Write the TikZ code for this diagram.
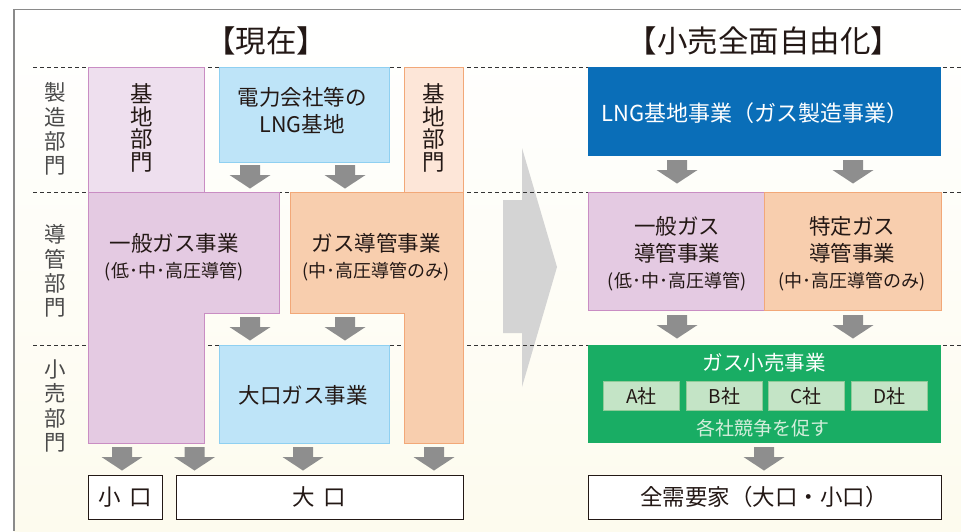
\documentclass[tikz,border=0pt]{standalone}
\usepackage{fontspec}
\setmainfont{Noto Sans CJK JP}
\definecolor{txt}{HTML}{231815}
\definecolor{lbl}{HTML}{4A4A4A}
\definecolor{framegray}{HTML}{8A8A8A}
\definecolor{bgcream}{HTML}{FDFBEE}
\definecolor{pinklight}{HTML}{EEDFEE}
\definecolor{pinkfill}{HTML}{E4CAE2}
\definecolor{pinkline}{HTML}{C98DC3}
\definecolor{bluefill}{HTML}{BEE4F8}
\definecolor{blueline}{HTML}{8FD0F1}
\definecolor{orangelight}{HTML}{FDE6D8}
\definecolor{orangefill}{HTML}{F8CEAE}
\definecolor{orangeline}{HTML}{F2A878}
\definecolor{darkblue}{HTML}{0A6EB8}
\definecolor{greenfill}{HTML}{19AD64}
\definecolor{subgreen}{HTML}{C4E4C6}
\definecolor{subgreenline}{HTML}{8FCB98}
\definecolor{greentext}{HTML}{D3EEDB}
\definecolor{agray}{HTML}{8E8E8E}
\definecolor{biggray}{HTML}{D4D4D4}
\definecolor{dashgray}{HTML}{333333}
\begin{document}
\begin{tikzpicture}[x=1pt,y=-1pt,
  box/.style={anchor=north west, inner sep=0pt, line width=0.9pt},
  txtnode/.style={text=txt, inner sep=0pt, align=center},
  big/.style={font=\fontsize{21.5}{27}\selectfont},
  small/.style={font=\fontsize{18}{22}\selectfont},
  vlabel/.style={text=lbl, inner sep=0pt, align=center, font=\fontsize{21.5}{24.3}\selectfont},
  vbox/.style={text=txt, inner sep=0pt, align=center, font=\fontsize{22.5}{22.5}\selectfont},
  sep/.style={dashgray, line width=0.8pt, dash pattern=on 4pt off 3pt},
  garrow/.pic={\fill[agray] (-10,0) -- (10,0) -- (10,10) -- (20.5,10) -- (0,23.5) -- (-20.5,10) -- (-10,10) -- cycle;}
]
\useasboundingbox (0,0) rectangle (961,531);
% background and frame
\shade[top color=white, bottom color=bgcream] (14,9.5) rectangle (961,531);
\draw[framegray, line width=1.4pt] (14,531) -- (14,9.5) -- (961,9.5);
% titles
\node[txtnode, font=\fontsize{30.5}{34}\selectfont] (t1) at (266,41) {【現在】};
\node[txtnode, font=\fontsize{30.5}{34}\selectfont] (t2) at (764,41) {【小売全面自由化】};
% big transition arrow
\fill[biggray] (503,200) -- (522,200) -- (522,148) -- (557,267) -- (522,387) -- (522,333) -- (503,333) -- cycle;
% dashed separators
\coordinate (s1a) at (33,67);  \coordinate (s1b) at (961,67);
\coordinate (s2a) at (33,192); \coordinate (s2b) at (961,192);
\coordinate (s3a) at (33,345); \coordinate (s3b) at (961,345);
\draw[sep] (s1a) -- (s1b);
\draw[sep] (s2a) -- (s2b);
\draw[sep] (s3a) -- (s3b);
% row labels
\node[vlabel] (r1) at (55,129) {製\\造\\部\\門};
\node[vlabel] (r2) at (55,271) {導\\管\\部\\門};
\node[vlabel] (r3) at (55,406) {小\\売\\部\\門};
% ---- left: current ----
\node[box, draw=pinkline, fill=pinklight, minimum width=116pt, minimum height=125pt] (kichiA) at (88,67) {};
\node[box, draw=blueline, fill=bluefill, minimum width=170pt, minimum height=95pt] (lngA) at (219,67) {};
\node[box, draw=orangeline, fill=orangelight, minimum width=59pt, minimum height=125pt] (kichiB) at (404,67) {};
\fill[pinkfill, draw=pinkline, line width=0.9pt] (88,192) -- (279,192) -- (279,313) -- (204,313) -- (204,443) -- (88,443) -- cycle;
\fill[orangefill, draw=orangeline, line width=0.9pt] (290,192) -- (463,192) -- (463,443) -- (404,443) -- (404,313) -- (290,313) -- cycle;
\node[box, draw=blueline, fill=bluefill, minimum width=170pt, minimum height=98pt] (ogA) at (219,345) {};
\node[box, draw=txt, fill=white, minimum width=74pt, minimum height=44pt, line width=1pt] (koguchi) at (88,475) {};
\node[box, draw=txt, fill=white, minimum width=287pt, minimum height=44pt, line width=1pt] (oguchi) at (176,475) {};
\node[vbox] (kA) at (142,128) {基\\地\\部\\門};
\node[vbox] (kB) at (434,128) {基\\地\\部\\門};
\node[txtnode, big] (lngAt) at (302,111) {電力会社等の\\LNG基地};
\node[txtnode, big] (ippan) at (174,243) {一般ガス事業};
\node[txtnode, small] (ippanS) at (174,272) {(低･中･高圧導管)};
\node[txtnode, big] (doukan) at (376,243) {ガス導管事業};
\node[txtnode, small] (doukanS) at (376,272) {(中･高圧導管のみ)};
\node[txtnode, big] (ogAt) at (303,395) {大口ガス事業};
\node[txtnode, font=\fontsize{22.5}{26}\selectfont] (kot) at (125,497) {小\hspace{0.4em}口};
\node[txtnode, font=\fontsize{22.5}{26}\selectfont] (oot) at (319.5,497) {大\hspace{0.4em}口};
\pic at (250,165) {garrow};
\pic at (345,165) {garrow};
\pic at (250,317) {garrow};
\pic at (345,317) {garrow};
\pic at (122,447) {garrow};
\pic at (194.5,447) {garrow};
\pic at (303,447) {garrow};
\pic at (434,447) {garrow};
% ---- right: full liberalisation ----
\node[box, fill=darkblue, minimum width=353pt, minimum height=89pt] (lngB) at (588,67) {};
\node[txtnode, text=white, font=\fontsize{22}{27}\selectfont] (lngBt) at (755,113) {LNG基地事業（ガス製造事業）};
\node[box, draw=pinkline, fill=pinkfill, minimum width=176pt, minimum height=118pt] (ippanB) at (588,192) {};
\node[box, draw=orangeline, fill=orangefill, minimum width=177pt, minimum height=118pt] (tokuteiB) at (764,192) {};
\node[txtnode, big] (ippanBt) at (677,240) {一般ガス\\導管事業};
\node[txtnode, small] (ippanBs) at (677,282) {(低･中･高圧導管)};
\node[txtnode, big] (tokuteiBt) at (852,240) {特定ガス\\導管事業};
\node[txtnode, small] (tokuteiBs) at (852,282) {(中･高圧導管のみ)};
\node[box, fill=greenfill, minimum width=353pt, minimum height=98pt] (retail) at (588,345) {};
\node[txtnode, text=white, font=\fontsize{20.5}{24}\selectfont] (retailt) at (764,363) {ガス小売事業};
\node[box, draw=subgreenline, fill=subgreen, line width=0.6pt, minimum width=76pt, minimum height=29pt] (coA) at (603,381) {};
\node[box, draw=subgreenline, fill=subgreen, line width=0.6pt, minimum width=76pt, minimum height=29pt] (coB) at (686,381) {};
\node[box, draw=subgreenline, fill=subgreen, line width=0.6pt, minimum width=76pt, minimum height=29pt] (coC) at (768,381) {};
\node[box, draw=subgreenline, fill=subgreen, line width=0.6pt, minimum width=76pt, minimum height=29pt] (coD) at (851,381) {};
\node[txtnode, font=\fontsize{19}{22}\selectfont] at (coA.center) {A社};
\node[txtnode, font=\fontsize{19}{22}\selectfont] at (coB.center) {B社};
\node[txtnode, font=\fontsize{19}{22}\selectfont] at (coC.center) {C社};
\node[txtnode, font=\fontsize{19}{22}\selectfont] at (coD.center) {D社};
\node[txtnode, text=greentext, font=\fontsize{19}{22}\selectfont] (compete) at (763,428) {各社競争を促す};
\node[box, draw=txt, fill=white, minimum width=353pt, minimum height=44pt, line width=1pt] (all) at (588,475) {};
\node[txtnode, font=\fontsize{22.5}{26}\selectfont] (allt) at (764,497) {全需要家（大口・小口）};
\pic at (677,160) {garrow};
\pic at (853,160) {garrow};
\pic at (677,315) {garrow};
\pic at (853,315) {garrow};
\pic at (764,447) {garrow};
\end{tikzpicture}
\end{document}
